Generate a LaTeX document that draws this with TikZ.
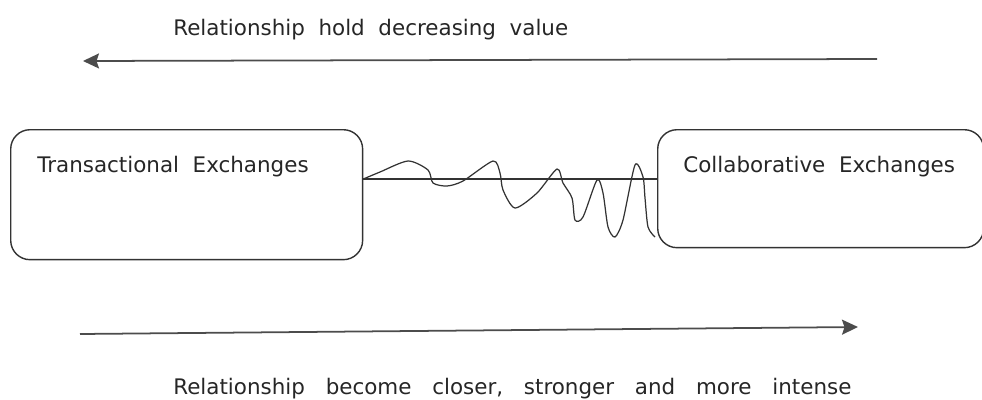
\documentclass[tikz,border=0pt]{standalone}
\usepackage{fontspec}
\setmainfont{DejaVu Sans}
\usetikzlibrary{arrows.meta,calc}

\begin{document}
\begin{tikzpicture}[x=0.02cm, y=-0.02cm, font=\fontsize{12.2}{14}\selectfont, >={Stealth[length=3.2mm,width=3mm,inset=0.5mm]},
  box/.style={draw=black!80, line width=0.8pt, rounded corners=11pt, anchor=north west, inner sep=0pt},
  lbl/.style={anchor=base west, inner sep=0pt, text=black!85},
  arr/.style={->, draw=black!70, line width=1pt}]
\useasboundingbox (0,0) rectangle (982,399);
\node[box, minimum width=7.04cm, minimum height=2.6cm] (trans) at (10,129) {};
\node[box, minimum width=6.52cm, minimum height=2.36cm] (collab) at (657,129) {};
\node[lbl] (transtxt) at (37,172) {Transactional\ \ Exchanges};
\node[lbl] (collabtxt) at (683,172) {Collaborative\ \ Exchanges};
\node[lbl] (toptxt) at (173,35) {Relationship\ \ hold\ \ decreasing\ \ value};
\node[lbl] (bottxt) at (173,394) {\spaceskip=0.97em Relationship become closer, stronger and more intense};
\coordinate (topR) at (877,59); \coordinate (topL) at (83,61);
\coordinate (botL) at (80,334); \coordinate (botR) at (858,327);
\draw[arr] (topR) -- (topL);
\draw[arr] (botL) -- (botR);
\coordinate (y179) at (0,179);
\coordinate (link) at (trans.east |- y179);
\draw[black!80, line width=0.8pt] (link) -- (link -| collab.west);
\draw[black!80, line width=0.7pt] plot[smooth, tension=0.45] coordinates {(link) (380,172) (408,161) (428,170) (433,183) (447,186) (463,181) (493,161) (500,173) (503,190) (515,208) (537,193) (557,169) (563,183) (572,198) (575,220) (583,217) (597,180) (603,193) (608,227) (615,237) (623,220) (635,165) (643,177) (645,198) (648,227) (655,237)};
\end{tikzpicture}
\end{document}
